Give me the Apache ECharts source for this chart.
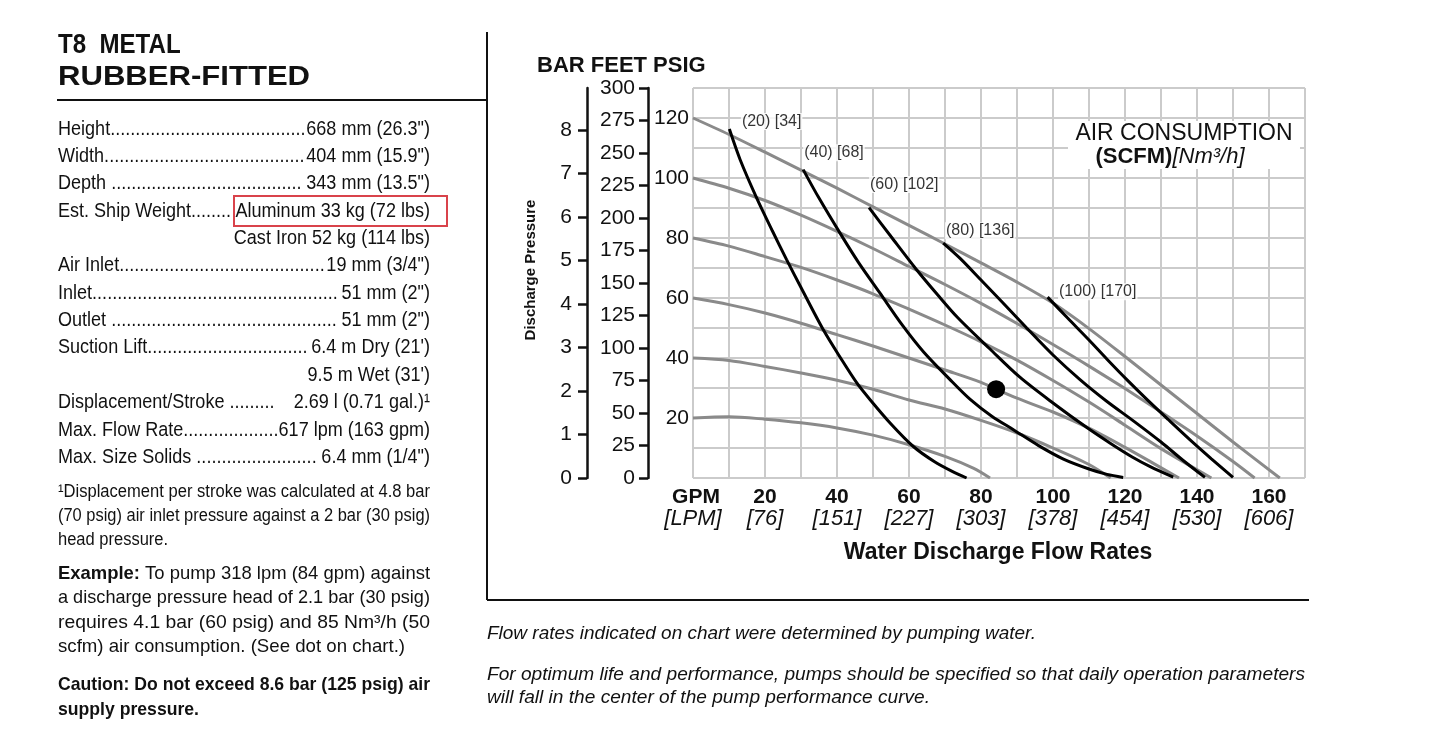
<!DOCTYPE html>
<html><head><meta charset="utf-8">
<script src="https://cdn.jsdelivr.net/npm/echarts@6/dist/echarts.min.js"></script>
<style>html,body{margin:0;padding:0;background:#fff;}#c{width:1453px;height:740px;}</style>
</head><body><div id="c"></div>
<script>
const FONT = '"Liberation Sans", Arial, Helvetica, sans-serif';

// ---- axis tick labels ----
const gpmLabels = [20, 40, 60, 80, 100, 120, 140, 160];
const lpmLabels = [76, 151, 227, 303, 378, 454, 530, 606];
const psigLabels = [20, 40, 60, 80, 100, 120];
const barLabels = [0, 1, 2, 3, 4, 5, 6, 7, 8];
const feetStep = 25;

// ---- air inlet pressure curves [GPM, psig] ----
const inlet20 = [[0,20],[10,20.4],[20,19.6],[30,18.4],[40,16.7],[50,14.3],[60,11.1],[70,7.2],[78,3.2],[82.5,0]];
const inlet40 = [[0,40],[10,39.2],[20,37.2],[30,35],[40,32.6],[50,29.6],[60,26],[70,23],[80,19.2],[90,15],[100,10],[110,4.5],[116,0]];
const inlet60 = [[0,60],[10,57.8],[20,55],[30,51.6],[40,47.8],[50,44],[60,40],[70,36],[80,31.9],[84.2,29.6],[90,26.6],[100,22],[110,16.6],[120,10.2],[128,4.8],[135,0]];
const inlet80 = [[0,80],[10,77.3],[20,73.8],[30,70.2],[40,66],[50,61.4],[60,56.3],[70,51],[80,45.4],[90,39.3],[100,32.5],[110,25.3],[120,17.6],[130,9.8],[144,0]];
const inlet100 = [[0,100],[10,96.6],[20,92.5],[30,87.6],[40,82.2],[50,76.5],[60,70.5],[70,64.5],[80,58.2],[90,51.5],[100,44.5],[110,37.3],[120,29.8],[130,22],[140,14],[150,5.5],[156,0]];
const inlet120 = [[0,120],[10,114.5],[20,108.6],[30,102.6],[40,96.6],[50,90.4],[60,84.2],[70,78],[80,71.7],[90,65.3],[100,58.3],[110,49.8],[120,40.5],[130,31],[140,21.5],[150,12],[163,0]];

// ---- air consumption curves [GPM, psig] ----
const scfm20 = [[10.1,116.3],[13.1,106.1],[17.7,93.3],[22,82.5],[26,72.8],[30,63.5],[36.2,49.4],[41,40],[45.5,31.7],[49.2,26.1],[55,18],[61.2,10.5],[67,5.5],[72,2.2],[76,0]];
const scfm40 = [[30.6,102.8],[35,93.3],[40.8,81.7],[46,71.8],[51.9,61.7],[58,51.2],[64,42.1],[71.4,32.8],[77,26.2],[83,20.6],[89,16.1],[96,10.8],[102.9,6.3],[110,3],[115,1.2],[119.5,0.2]];
const scfm60 = [[48.9,90.1],[55,80.5],[62,69.6],[68,61],[73.5,53.5],[82.5,43],[90.8,33.6],[100,25],[109.4,16.8],[116,11.5],[122,7],[127,3.8],[133.4,0.3]];
const scfm80 = [[69.5,78.3],[74.2,73.2],[80,66],[86,58.5],[92.7,50],[100,41],[107.5,32.8],[115,25.5],[122.6,18.8],[130,12],[136,6],[142.2,0.2]];
const scfm100 = [[98.5,60.3],[104,53.4],[110,46],[115,39.6],[120.5,32.8],[126,26.3],[132,19.5],[138,12.8],[144,6.4],[150,0.2]];

const scfmLabels = ['(20) [34]', '(40) [68]', '(60) [102]', '(80) [136]', '(100) [170]'];
const scfmLabelAnchors = [[13.3,118.8],[30.6,108.4],[48.9,97.8],[70,82.4],[101.4,62.1]];
const examplePoint = [[84.2, 29.6]];

// ---- spec sheet text ----
const titleLine1 = 'T8  METAL';
const titleLine2 = 'RUBBER-FITTED';
const specLabels = ['Height','Width','Depth ','Est. Ship Weight','','Air Inlet','Inlet','Outlet ','Suction Lift','','Displacement/Stroke ','Max. Flow Rate','Max. Size Solids '];
const specValues = ['668 mm (26.3")','404 mm (15.9")','343 mm (13.5")','Aluminum 33 kg (72 lbs)','Cast Iron 52 kg (114 lbs)','19 mm (3/4")','51 mm (2")','51 mm (2")','6.4 m Dry (21\')','9.5 m Wet (31\')','   2.69 l (0.71 gal.)¹','617 lpm (163 gpm)','6.4 mm (1/4")'];
const footnoteLines = ['¹Displacement per stroke was calculated at 4.8 bar','(70 psig) air inlet pressure against a 2 bar (30 psig)','head pressure.'];
const exampleLines = [' To pump 318 lpm (84 gpm) against','a discharge pressure head of 2.1 bar (30 psig)','requires 4.1 bar (60 psig) and 85 Nm³/h (50','scfm) air consumption. (See dot on chart.)'];
const cautionLines = ['Caution: Do not exceed 8.6 bar (125 psig) air','supply pressure.'];
const noteLines = ['Flow rates indicated on chart were determined by pumping water.','For optimum life and performance, pumps should be specified so that daily operation parameters','will fall in the center of the pump performance curve.'];

// ---- helpers ----
const cv = document.createElement('canvas').getContext('2d');
function mw(text, size, weight, style) {
  cv.font = (style || 'normal') + ' ' + (weight || 'normal') + ' ' + size + 'px ' + FONT;
  return cv.measureText(text).width;
}
const G = [];
function T(x, y, text, o) {
  o = o || {};
  const el = {type: 'text', x: x, y: y, silent: true, z: 100,
    scaleX: o.sx || 1, rotation: o.rot || 0,
    style: {text: text, fontFamily: FONT, fontSize: o.size || 18, fontWeight: o.weight || 'normal',
      fontStyle: o.style || 'normal', fill: o.fill || '#111', textAlign: o.align || 'left', verticalAlign: 'middle'}};
  if (o.rich) el.style.rich = o.rich;
  G.push(el);
}
function L(x1, y1, x2, y2, w, c) {
  G.push({type: 'line', silent: true, z: 100, shape: {x1, y1, x2, y2}, style: {stroke: c || '#111', lineWidth: w || 2}});
}

// title
T(58, 45, titleLine1, {size: 28, weight: 'bold', sx: 0.86});
T(58, 77, titleLine2, {size: 28, weight: 'bold', sx: 1.11});
L(57, 100, 487, 100, 2);
L(487, 32, 487, 600, 2);
L(487, 600, 1309, 600, 2);

// spec rows
const S = 0.88, SZ = 20.5;
for (let i = 0; i < specLabels.length; i++) {
  const y = 129 + i * 27.35;
  const lab = specLabels[i], val = specValues[i];
  if (lab) T(58, y, lab, {size: SZ, sx: S});
  T(430, y, val, {size: SZ, sx: S, align: 'right'});
  if (lab) {
    const lw = mw(lab, SZ) * S, vw = mw(val, SZ) * S, dw = mw('.', SZ) * S;
    const n = Math.floor((430 - vw - 58 - lw) / dw);
    if (n > 0) T(58 + lw, y, '.'.repeat(n), {size: SZ, sx: S});
  }
}
G.push({type: 'rect', silent: true, z: 101, shape: {x: 234, y: 196, width: 213, height: 30},
  style: {fill: null, stroke: '#d9434b', lineWidth: 2}});

// paragraphs
function para(lines, y0, dy, size, weight, prefix) {
  const scales = [];
  lines.forEach((ln, i) => {
    let w = mw(ln, size, weight);
    if (i === 0 && prefix) w += mw(prefix, size, 'bold');
    scales.push(372 / w);
  });
  const avg = scales.slice(0, -1).reduce((a, b) => a + b, 0) / Math.max(1, scales.length - 1);
  lines.forEach((ln, i) => {
    let sx = i < lines.length - 1 ? scales[i] : Math.min(avg, scales[i]);
    sx = Math.max(0.8, Math.min(1.15, sx));
    if (i === 0 && prefix) {
      T(58, y0 + i * dy, '{b|' + prefix + '}' + ln, {size: size, weight: weight, sx: sx,
        rich: {b: {fontWeight: 'bold', fontSize: size, fontFamily: FONT, fill: '#111'}}});
    } else {
      T(58, y0 + i * dy, ln, {size: size, weight: weight, sx: sx});
    }
  });
}
para(footnoteLines, 492, 24, 17.5, 'normal');
para(exampleLines, 574, 24.2, 19, 'normal', 'Example:');
para(cautionLines, 685, 24.5, 19, 'bold');

// notes under chart
const noteW = [549, 818, 443];
const noteY = [634, 675, 698];
noteLines.forEach((ln, i) => {
  const sx = noteW[i] / mw(ln, 18, 'normal', 'italic');
  T(487, noteY[i], ln, {size: 18, style: 'italic', sx: sx});
});

// chart headings
T(537, 66, 'BAR FEET PSIG', {size: 22, weight: 'bold'});
T(531, 270, 'Discharge Pressure', {size: 15, weight: 'bold', align: 'center', rot: Math.PI / 2});
T(998, 553, 'Water Discharge Flow Rates', {size: 23, weight: 'bold', align: 'center'});
G.push({type: 'rect', silent: true, z: 99, shape: {x: 1068, y: 121, width: 232, height: 48}, style: {fill: '#fff'}});
T(1184, 134, 'AIR CONSUMPTION', {size: 23, align: 'center'});
T(1170, 157, '{b|(SCFM)}{i|[Nm³/h]}', {size: 22, align: 'center',
  rich: {b: {fontWeight: 'bold', fontSize: 22, fontFamily: FONT, fill: '#111'},
         i: {fontStyle: 'italic', fontSize: 22, fontFamily: FONT, fill: '#111'}}});

const chart = echarts.init(document.getElementById('c'), null, {renderer: 'canvas'});
const GRAY = '#8a8a8a', GRID = '#cbcbcb';
const grayLine = d => ({type: 'line', data: d, smooth: 0.3, symbol: 'none', z: 3,
  lineStyle: {color: GRAY, width: 3}, silent: true});
const blackLine = d => ({type: 'line', data: d, smooth: 0.3, symbol: 'none', z: 4,
  lineStyle: {color: '#000', width: 3}, silent: true});
const axisNum = {fontFamily: FONT, fontSize: 21, color: '#111'};
const barMax = 130 / 14.5038;

chart.setOption({
  animation: false,
  grid: {left: 693, right: 148, top: 88, bottom: 262, containLabel: false},
  xAxis: {type: 'value', min: 0, max: 170, interval: 10,
    axisLine: {show: false}, axisTick: {show: false},
    splitLine: {show: true, lineStyle: {color: GRID, width: 2}},
    axisLabel: {margin: 8, lineHeight: 22,
      formatter: v => {
        if (v === 0) return '{g|GPM}\n{l|[LPM]}';
        const i = gpmLabels.indexOf(v);
        return i >= 0 ? '{n|' + v + '}\n{l|[' + lpmLabels[i] + ']}' : '';
      },
      rich: {
        g: {fontFamily: FONT, fontSize: 21, fontWeight: 'bold', color: '#111', lineHeight: 22, padding: [0, 0, 0, 6]},
        n: {fontFamily: FONT, fontSize: 21, fontWeight: 'bold', color: '#111', lineHeight: 22},
        l: {fontFamily: FONT, fontSize: 22, fontStyle: 'italic', color: '#111', lineHeight: 22}
      }}},
  yAxis: [
    {type: 'value', position: 'left', min: 0, max: 130, interval: 10,
      axisLine: {show: false}, axisTick: {show: false},
      splitLine: {show: true, lineStyle: {color: GRID, width: 2}},
      axisLabel: Object.assign({margin: 4, formatter: v => psigLabels.indexOf(v) >= 0 ? String(v) : ''}, axisNum)},
    {type: 'value', position: 'left', offset: 45, min: 0, max: 300, interval: feetStep,
      axisLine: {show: true, lineStyle: {color: '#111', width: 2.5}},
      axisTick: {show: true, length: 9, lineStyle: {color: '#111', width: 2.5}},
      splitLine: {show: false},
      axisLabel: Object.assign({margin: 13}, axisNum)},
    {type: 'value', position: 'left', offset: 106, min: 0, max: barMax, interval: 1,
      axisLine: {show: true, lineStyle: {color: '#111', width: 2.5}},
      axisTick: {show: true, length: 9, customValues: barLabels, lineStyle: {color: '#111', width: 2.5}},
      splitLine: {show: false},
      axisLabel: Object.assign({margin: 15, customValues: barLabels,
        formatter: v => Number.isInteger(v) ? String(v) : ''}, axisNum)}
  ],
  series: [
    grayLine(inlet20), grayLine(inlet40), grayLine(inlet60), grayLine(inlet80), grayLine(inlet100), grayLine(inlet120),
    blackLine(scfm20), blackLine(scfm40), blackLine(scfm60), blackLine(scfm80), blackLine(scfm100),
    {type: 'scatter', data: examplePoint, symbolSize: 18, itemStyle: {color: '#000', opacity: 1}, z: 6, silent: true},
    {type: 'scatter', data: scfmLabelAnchors, symbolSize: 0, z: 7, silent: true,
      label: {show: true, position: 'right', distance: 0,
        formatter: p => scfmLabels[p.dataIndex],
        fontFamily: FONT, fontSize: 16, color: '#000', backgroundColor: '#fff', padding: [1, 1, 0, 1]}}
  ],
  graphic: G
});
</script></body></html>
